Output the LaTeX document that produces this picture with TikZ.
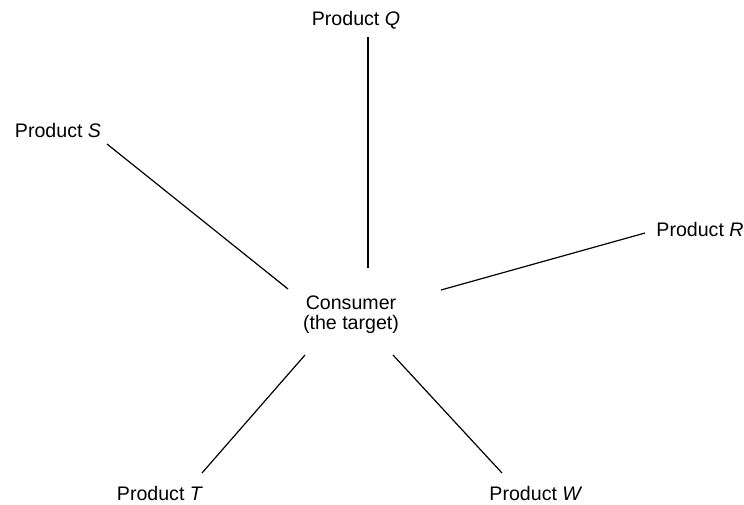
\documentclass[tikz,border=0pt]{standalone}
\usepackage{fontspec}
\setmainfont{Liberation Sans}
\begin{document}
\begin{tikzpicture}[x=0.5pt,y=-0.5pt,
  lbl/.style={inner sep=0pt,font=\fontsize{9.8}{10}\selectfont,align=center},
  link/.style={line width=0.6pt,black}]
\useasboundingbox (0,0) rectangle (744,504);
\node[lbl] (Q) at (356,20) {Product \textit{Q}};
\node[lbl] (S) at (58,130) {Product \textit{S}};
\node[lbl] (R) at (700,229) {Product \textit{R}};
\node[lbl] (T) at (160,493) {Product \textit{T}};
\node[lbl] (W) at (536,493) {Product \textit{W}};
\node[lbl] (C) at (351,315) {Consumer\\(the target)};
\coordinate (q1) at (368,37);  \coordinate (q2) at (368,268);
\coordinate (s1) at (107,144); \coordinate (s2) at (288,289);
\coordinate (r1) at (645,233); \coordinate (r2) at (441,290);
\coordinate (t1) at (202,473); \coordinate (t2) at (305,355);
\coordinate (w1) at (502,473); \coordinate (w2) at (393,355);
\draw[link] (q1) -- (q2);
\draw[link] (s1) -- (s2);
\draw[link] (r1) -- (r2);
\draw[link] (t1) -- (t2);
\draw[link] (w1) -- (w2);
\end{tikzpicture}
\end{document}
